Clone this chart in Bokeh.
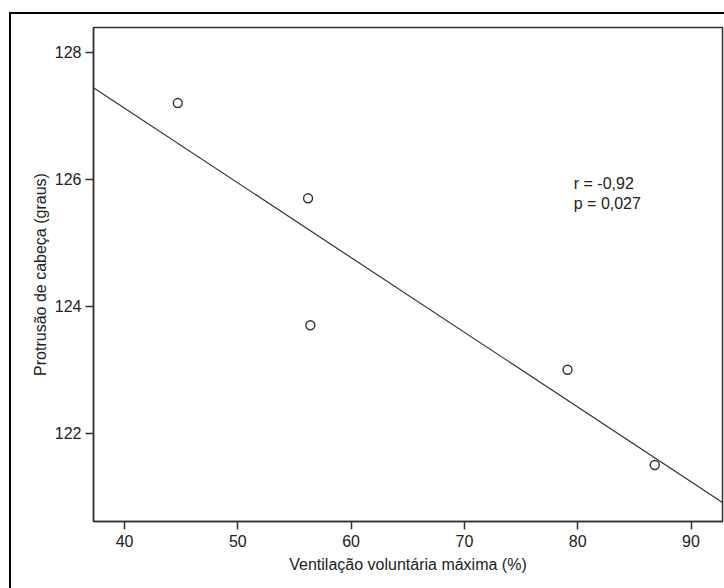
import numpy as np
from bokeh.plotting import figure
from bokeh.models import Range1d, Label, FixedTicker
from bokeh.embed import file_html
from bokeh.resources import INLINE

# Data
vvm = [44.7, 56.2, 56.4, 79.1, 86.8]          # Ventilação voluntária máxima (%)
protrusao = [127.2, 125.7, 123.7, 123.0, 121.5]  # Protrusão de cabeça (graus)
x_ticks = [40, 50, 60, 70, 80, 90]
y_ticks = [122, 124, 126, 128]
stat_lines = ["r = -0,92", "p = 0,027"]
x_title = "Ventilação voluntária máxima (%)"
y_title = "Protrusão de cabeça (graus)"

FONT = "Liberation Sans"
DARK = "#333333"

x0, x1 = 37.26, 92.78
y0, y1 = 120.61, 128.39

# outer frame of the exported figure (only its left and top edges are in view),
# painted as a CSS background behind a transparent canvas border
frame_css = {
    "background-color": "white",
    "background-image": "linear-gradient(#000, #000), linear-gradient(#000, #000)",
    "background-position": "9px 12px, 9px 12px",
    "background-size": "2px 100%, 100% 2px",
    "background-repeat": "no-repeat",
}

p = figure(width=724, height=588, output_backend="svg", toolbar_location=None,
           x_range=Range1d(x0, x1), y_range=Range1d(y0, y1),
           min_border_left=93, min_border_right=2, min_border_top=27, min_border_bottom=67,
           styles=frame_css)

p.xgrid.visible = False
p.ygrid.visible = False
p.background_fill_color = "white"
p.border_fill_color = None
p.outline_line_color = DARK
p.outline_line_width = 1.5
p.outline_line_alpha = 1.0

# regression line computed from the data
xa = np.array(vvm); ya = np.array(protrusao)
slope, intercept = np.polyfit(xa, ya, 1)
lx = [x0, x1]
ly = [intercept + slope * x0, intercept + slope * x1]
p.line(lx, ly, line_color=DARK, line_width=1.2)

p.scatter(vvm, protrusao, marker="circle", size=9, fill_color=None,
          line_color=DARK, line_width=1.4)

for ax, ticks, title in ((p.xaxis, x_ticks, x_title), (p.yaxis, y_ticks, y_title)):
    ax.ticker = FixedTicker(ticks=ticks)
    ax.axis_label = title
    ax.axis_label_text_font = FONT
    ax.axis_label_text_font_size = "16px"
    ax.axis_label_text_font_style = "normal"
    ax.axis_label_text_color = "#222222"
    ax.major_label_text_font = FONT
    ax.major_label_text_font_size = "16px"
    ax.major_label_text_color = "#222222"
    ax.axis_line_color = DARK
    ax.axis_line_width = 1.5
    ax.major_tick_line_color = DARK
    ax.major_tick_line_width = 1.5
    ax.major_tick_out = 8
    ax.major_tick_in = 0
    ax.minor_tick_line_color = None

p.xaxis.major_label_standoff = 5
p.xaxis.axis_label_standoff = 6
p.yaxis.major_label_standoff = 4
p.yaxis.axis_label_standoff = 3

label_y = [125.93, 125.62]
for txt, yy in zip(stat_lines, label_y):
    p.add_layout(Label(x=79.65, y=yy, text=txt, text_font=FONT, text_font_size="16px",
                       text_color="#222222", text_baseline="alphabetic"))

open("out.html", "w").write(file_html(p, INLINE))
